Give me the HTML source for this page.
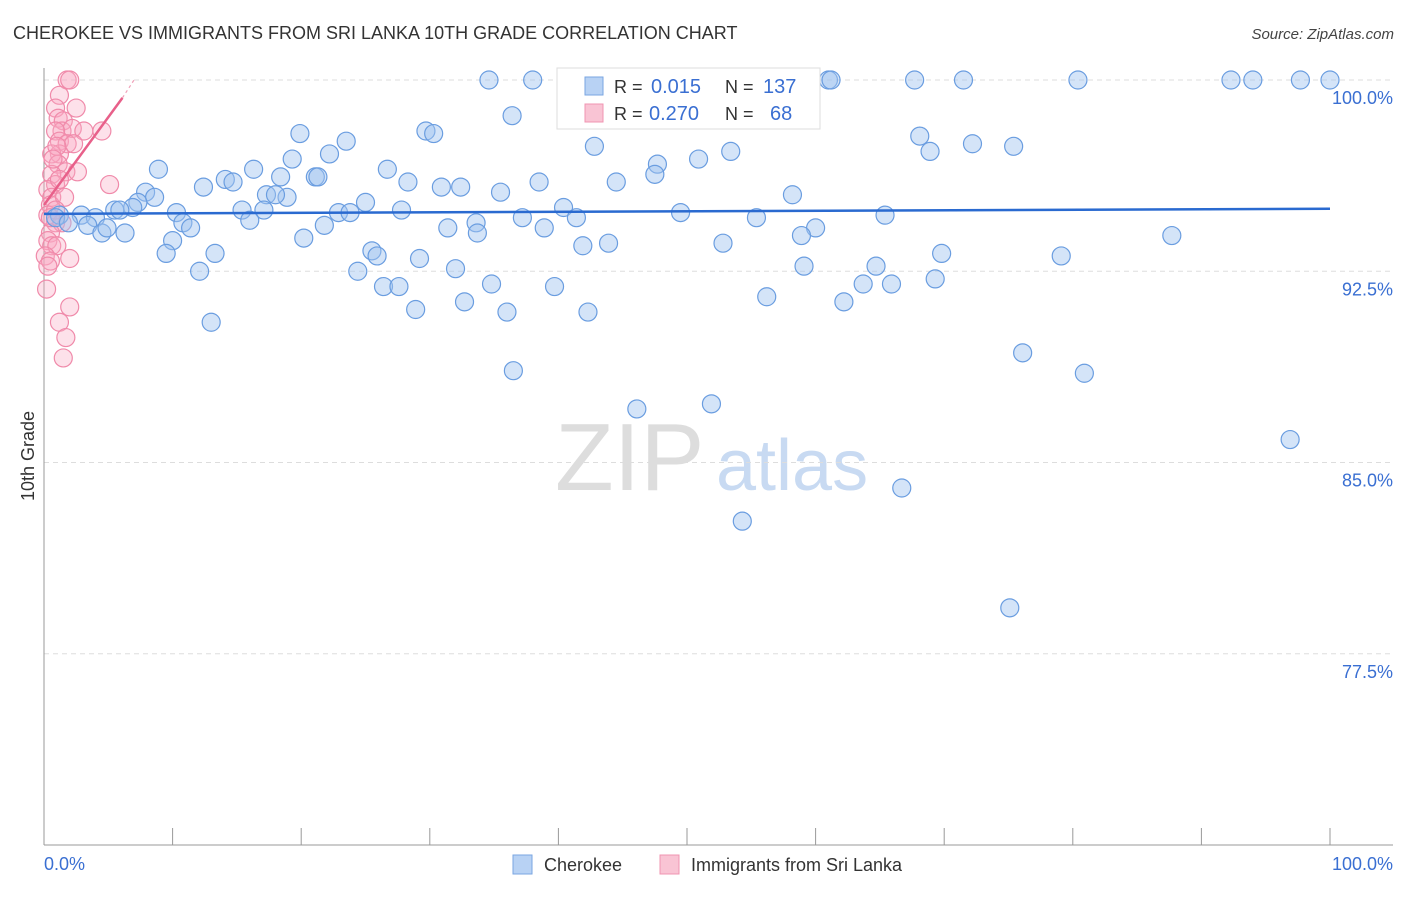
<!DOCTYPE html>
<html><head><meta charset="utf-8"><style>
body{margin:0;background:#fff;font-family:"Liberation Sans",sans-serif;}
svg text{font-family:"Liberation Sans",sans-serif;}
</style></head><body>
<svg id="chart" width="1406" height="892" viewBox="0 0 1406 892" xmlns="http://www.w3.org/2000/svg">
<text x="13" y="39" font-size="18" fill="#333">CHEROKEE VS IMMIGRANTS FROM SRI LANKA 10TH GRADE CORRELATION CHART</text>
<text x="1394" y="39" font-size="15" fill="#444" text-anchor="end" font-style="italic">Source: ZipAtlas.com</text>
<g>
<text x="555" y="490" font-size="96" fill="#ddd" font-family="Liberation Serif,serif">ZIP</text>
<text x="716" y="490" font-size="72" fill="#c8daf2">atlas</text>
</g>
<g id="grid"></g>
<g id="axes"></g>
<g id="pinkPts"></g>
<g id="bluePts"></g>
<g id="lines"></g>
<text transform="translate(34,456) rotate(-90)" font-size="18" fill="#333" text-anchor="middle">10th Grade</text>
<g>
<rect x="557" y="68" width="263" height="61" fill="#fff" stroke="#ddd"/>
<rect x="585" y="77" width="18" height="18" fill="#b8d2f4" stroke="#7aa6e2"/>
<text x="614" y="93" font-size="18" fill="#333">R = </text>
<text x="651" y="93" font-size="20" fill="#3a6fd2">0.015</text>
<text x="725" y="93" font-size="18" fill="#333">N = </text>
<text x="763" y="93" font-size="20" fill="#3a6fd2">137</text>
<rect x="585" y="104" width="18" height="18" fill="#f9c4d4" stroke="#f094b2"/>
<text x="614" y="120" font-size="18" fill="#333">R = </text>
<text x="649" y="120" font-size="20" fill="#3a6fd2">0.270</text>
<text x="725" y="120" font-size="18" fill="#333">N = </text>
<text x="770" y="120" font-size="20" fill="#3a6fd2">68</text>
</g>
<g>
<rect x="513" y="855" width="19" height="19" fill="#b8d2f4" stroke="#7aa6e2"/>
<text x="544" y="871" font-size="18" fill="#333">Cherokee</text>
<rect x="660" y="855" width="19" height="19" fill="#f9c4d4" stroke="#f094b2"/>
<text x="691" y="871" font-size="18" fill="#333">Immigrants from Sri Lanka</text>
</g>
</svg>
<script>
const yTicks=[100,92.5,85,77.5];
const yTickLabels=["100.0%","92.5%","85.0%","77.5%"];
const xTickLabels=["0.0%","100.0%"];
const blueX=[34.6,38.0,46.7,52.3,61.0,61.2,67.7,71.5,80.4,92.3,94.0,97.7,100,36.4,29.7,30.3,19.9,23.5,42.8,68.1,68.9,72.2,75.4,53.4,50.9,47.7,19.3,22.2,8.9,16.3,26.7,21.1,21.3,14.1,18.4,14.7,28.3,38.5,44.5,47.5,12.4,7.9,8.6,7.3,18.9,17.3,18.0,35.5,32.4,30.9,58.2,25.0,40.4,27.8,15.4,17.1,6.9,5.5,5.9,10.3,10.8,11.4,16.0,22.9,23.8,49.5,65.4,41.4,37.2,55.4,1.2,0.9,2.9,4.0,3.4,1.9,4.5,6.3,4.9,33.6,31.4,33.7,38.9,60.0,58.9,87.7,20.2,21.8,10.0,9.5,13.3,25.5,25.9,29.2,41.9,43.9,52.8,69.8,79.1,12.1,24.4,32.0,59.1,64.7,26.4,27.6,34.8,39.7,63.7,65.9,69.3,56.2,62.2,32.7,28.9,36.0,42.3,13.0,76.1,36.5,80.9,46.1,51.9,96.9,66.7,54.3,75.1];
const blueY=[100,100,100,100,100,100,100,100,100,100,100,100,100,98.6,98.0,97.9,97.9,97.6,97.4,97.8,97.2,97.5,97.4,97.2,96.9,96.7,96.9,97.1,96.5,96.5,96.5,96.2,96.2,96.1,96.2,96.0,96.0,96.0,96.0,96.3,95.8,95.6,95.4,95.2,95.4,95.5,95.5,95.6,95.8,95.8,95.5,95.2,95.0,94.9,94.9,94.9,95.0,94.9,94.9,94.8,94.4,94.2,94.5,94.8,94.8,94.8,94.7,94.6,94.6,94.6,94.7,94.6,94.7,94.6,94.3,94.4,94.0,94.0,94.2,94.4,94.2,94.0,94.2,94.2,93.9,93.9,93.8,94.3,93.7,93.2,93.2,93.3,93.1,93.0,93.5,93.6,93.6,93.2,93.1,92.5,92.5,92.6,92.7,92.7,91.9,91.9,92.0,91.9,92.0,92.0,92.2,91.5,91.3,91.3,91.0,90.9,90.9,90.5,89.3,88.6,88.5,87.1,87.3,85.9,84.0,82.7,79.3];
const pinkX=[1.8,2.0,1.2,2.5,0.9,1.1,1.5,1.4,2.2,3.1,4.5,0.9,1.2,1.8,2.3,1.2,0.6,1.1,1.7,2.6,5.1,0.6,0.9,0.3,0.6,0.5,0.3,0.9,1.4,0.5,0.3,0.6,1.0,0.1,0.5,2.0,0.3,0.2,2.0,1.2,1.7,1.5,1.0,0.7,1.2,1.6,0.9,0.5];
const pinkY=[100,100,99.4,98.9,98.9,98.5,98.4,98.0,98.1,98.0,98.0,98.0,97.6,97.5,97.5,97.1,97.1,96.7,96.4,96.4,95.9,96.3,95.9,95.7,95.4,95.1,94.7,94.4,94.4,94.0,93.7,93.5,93.5,93.1,92.9,93.0,92.7,91.8,91.1,90.5,89.9,89.1,97.4,96.9,96.1,95.4,94.9,94.6];
const blueTrend=[[0,94.75],[100,94.95]];
const pinkTrend=[[0,95.1],[6.1,99.3]];
const pinkTrendExt=[[6.1,99.3],[7.0,100]];

const NS="http://www.w3.org/2000/svg";
const X0=44,X1=1330,YTOP=80,PXPER=25.5;
function sx(v){return X0+(X1-X0)*v/100;}
function sy(v){return YTOP+(100-v)*PXPER;}
function mk(tag,attrs,parent){const e=document.createElementNS(NS,tag);for(const k in attrs)e.setAttribute(k,attrs[k]);parent.appendChild(e);return e;}
const grid=document.getElementById('grid'),axes=document.getElementById('axes');
yTicks.forEach((t,i)=>{
  const l=mk('line',{x1:44,x2:1393,y1:sy(t),y2:sy(t),stroke:'#ddd','stroke-dasharray':'5,4'},grid);
  
  
  const tx=mk('text',{x:1393,y:sy(t)+24,'font-size':18,fill:'#3a6fd2','text-anchor':'end'},grid);
  tx.textContent=yTickLabels[i];
  
  
});
mk('line',{x1:44,x2:44,y1:68,y2:845,stroke:'#999'},axes);
mk('line',{x1:44,x2:1393,y1:845,y2:845,stroke:'#999'},axes);
for(let i=0;i<=10;i++){
  const t=mk('line',{x1:sx(i*10),x2:sx(i*10),y1:828,y2:845,stroke:'#999'},axes);
  
  
}
const xl0=mk('text',{x:44,y:870,'font-size':18,fill:'#3a6fd2'},axes);xl0.textContent=xTickLabels[0];


const xl1=mk('text',{x:1393,y:870,'font-size':18,fill:'#3a6fd2','text-anchor':'end'},axes);xl1.textContent=xTickLabels[1];



const pg=document.getElementById('pinkPts');
pinkX.forEach((v,i)=>{
  const c=mk('circle',{cx:sx(v),cy:sy(pinkY[i]),r:9,fill:'rgba(248,170,195,0.35)',stroke:'#f08aaa','stroke-width':1.2},pg);
  
  
});
const bg=document.getElementById('bluePts');
blueX.forEach((v,i)=>{
  const c=mk('circle',{cx:sx(v),cy:sy(blueY[i]),r:9,fill:'rgba(160,195,240,0.45)',stroke:'#6a9de0','stroke-width':1.2},bg);
  
  
});
const lg=document.getElementById('lines');
const bl=mk('line',{x1:sx(blueTrend[0][0]),y1:sy(blueTrend[0][1]),x2:sx(blueTrend[1][0]),y2:sy(blueTrend[1][1]),stroke:'#2a6ad0','stroke-width':2.5},lg);


const pl=mk('line',{x1:sx(pinkTrend[0][0]),y1:sy(pinkTrend[0][1]),x2:sx(pinkTrend[1][0]),y2:sy(pinkTrend[1][1]),stroke:'#e8608a','stroke-width':2.5},lg);


const pe=mk('line',{x1:sx(pinkTrendExt[0][0]),y1:sy(pinkTrendExt[0][1]),x2:sx(pinkTrendExt[1][0]),y2:sy(pinkTrendExt[1][1]),stroke:'#f0a0b8','stroke-width':1.2,'stroke-dasharray':'3,3'},lg);


</script>
</body></html>
